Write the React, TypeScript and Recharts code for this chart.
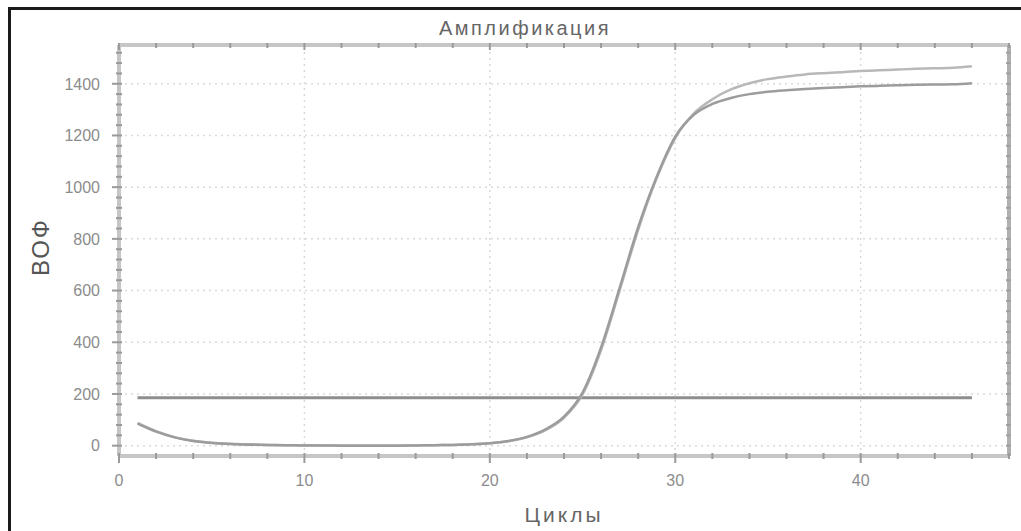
import React from 'react';
import { LineChart, Line, XAxis, YAxis, ReferenceLine } from 'recharts';

const CYCLES = [
  1, 2, 3, 4, 5, 6, 7, 8, 9, 10, 11, 12, 13, 14, 15, 16, 17, 18, 19, 20, 21, 22, 23,
  24, 25, 26, 27, 28, 29, 30, 31, 32, 33, 34, 35, 36, 37, 38, 39, 40, 41, 42, 43, 44, 45, 46,
];

const SAMPLE_A = [
  88, 56, 33, 19, 11, 7, 5, 3, 2, 2, 1, 1, 1, 1, 1, 1, 2, 3, 5, 9, 17, 32, 60,
  108, 198, 370, 600, 835, 1035, 1190, 1285, 1340, 1378, 1402, 1418, 1428, 1436, 1441, 1445, 1449, 1452, 1455, 1458, 1460, 1462, 1468,
];

const SAMPLE_B = [
  85, 54, 32, 18, 10, 6, 4, 3, 2, 1, 1, 0, 0, 0, 0, 1, 2, 3, 5, 9, 18, 34, 63,
  112, 205, 380, 610, 845, 1040, 1195, 1280, 1322, 1345, 1360, 1369, 1375, 1380, 1384, 1387, 1390, 1392, 1394, 1396, 1397, 1398, 1402,
];

const THRESHOLD = 185;

const X_TICKS = [0, 2, 4, 6, 8, 10, 12, 14, 16, 18, 20, 22, 24, 26, 28, 30, 32, 34, 36, 38, 40, 42, 44, 46, 48];
const X_LABELS = [0, 10, 20, 30, 40];
const Y_TICKS = [
  0, 40, 80, 120, 160, 200, 240, 280, 320, 360, 400, 440, 480, 520, 560, 600, 640, 680, 720, 760,
  800, 840, 880, 920, 960, 1000, 1040, 1080, 1120, 1160, 1200, 1240, 1280, 1320, 1360, 1400, 1440, 1480, 1520,
];
const Y_LABELS = [0, 200, 400, 600, 800, 1000, 1200, 1400];

const TITLE = 'Амплификация';
const X_TITLE = 'Циклы';
const Y_TITLE = 'ВОФ';

const data = CYCLES.map((c, i) => ({ cycle: c, a: SAMPLE_A[i], b: SAMPLE_B[i], thr: THRESHOLD }));

const FONT = '"Liberation Sans", Arial, sans-serif';
const TICK_COLOR = '#9a9a9a';
const AXIS_COLOR = '#c6c6c6';

const BottomTick = (props: any) => {
  const { x, y, payload } = props;
  const v = payload.value;
  const major = X_LABELS.includes(v);
  return (
    <g>
      <line x1={x} x2={x} y1={y - 3} y2={y + (major ? 7 : 3)} stroke={TICK_COLOR} strokeWidth={2} />
      {major && (
        <text x={x} y={y + 30} textAnchor="middle" fontSize={16} fill="#8c8c8c" fontFamily={FONT}>
          {v}
        </text>
      )}
    </g>
  );
};

const TopTick = (props: any) => {
  const { x, y, payload } = props;
  const major = X_LABELS.includes(payload.value);
  return <line x1={x} x2={x} y1={y - 2} y2={y + (major ? 5 : 3)} stroke={TICK_COLOR} strokeWidth={2} />;
};

const LeftTick = (props: any) => {
  const { x, y, payload } = props;
  const v = payload.value;
  const major = Y_LABELS.includes(v);
  return (
    <g>
      <line x1={x - (major ? 7 : 3)} x2={x + 3} y1={y} y2={y} stroke={TICK_COLOR} strokeWidth={2} />
      {major && (
        <text x={x - 19} y={y} dy="0.36em" textAnchor="end" fontSize={16} fill="#8c8c8c" fontFamily={FONT}>
          {v}
        </text>
      )}
    </g>
  );
};

const RightTick = (props: any) => {
  const { x, y } = props;
  return <line x1={x - 3} x2={x + 2} y1={y} y2={y} stroke="#a0a0a0" strokeWidth={2} />;
};

export default function App() {
  return (
    <div
      style={{
        position: 'absolute',
        left: 0,
        top: 0,
        width: 1021,
        height: 531,
        background: '#fff',
        overflow: 'hidden',
        fontFamily: FONT,
      }}
    >
      <div
        style={{
          position: 'absolute',
          left: 8,
          top: 7,
          width: 1013,
          height: 524,
          borderTop: '3px solid #1a1a1a',
          borderLeft: '3px solid #1a1a1a',
          boxSizing: 'border-box',
        }}
      />
      <LineChart width={1021} height={531} data={data} margin={{ top: 44, right: 11, bottom: 0, left: 0 }}>
        {X_LABELS.filter((v) => v > 0).map((v) => (
          <ReferenceLine key={'gx' + v} x={v} stroke="#dadada" strokeWidth={1.5} strokeDasharray="2 4" />
        ))}
        {Y_LABELS.map((v) => (
          <ReferenceLine key={'gy' + v} y={v} stroke="#dadada" strokeWidth={1.5} strokeDasharray="2 4" />
        ))}
        <XAxis
          dataKey="cycle"
          type="number"
          domain={[0, 48]}
          ticks={X_TICKS}
          interval={0}
          height={75}
          tickSize={0}
          tickMargin={0}
          tickLine={false}
          tick={BottomTick}
          axisLine={{ stroke: AXIS_COLOR, strokeWidth: 4 }}
          allowDataOverflow
        />
        <XAxis
          xAxisId="top"
          dataKey="cycle"
          orientation="top"
          type="number"
          domain={[0, 48]}
          ticks={X_TICKS}
          interval={0}
          height={1}
          tickSize={0}
          tickMargin={0}
          tickLine={false}
          tick={TopTick}
          axisLine={{ stroke: AXIS_COLOR, strokeWidth: 4 }}
          allowDataOverflow
        />
        <YAxis
          type="number"
          domain={[-40, 1550]}
          ticks={Y_TICKS}
          interval={0}
          width={119}
          tickSize={0}
          tickMargin={0}
          tickLine={false}
          tick={LeftTick}
          axisLine={{ stroke: AXIS_COLOR, strokeWidth: 4 }}
          allowDataOverflow
        />
        <YAxis
          yAxisId="right"
          orientation="right"
          type="number"
          domain={[-40, 1550]}
          ticks={Y_TICKS}
          interval={0}
          width={1}
          tickSize={0}
          tickMargin={0}
          tickLine={false}
          tick={RightTick}
          axisLine={{ stroke: '#b0b0b0', strokeWidth: 4 }}
          allowDataOverflow
        />
        <Line
          dataKey="thr"
          type="linear"
          stroke="#8e8e8e"
          strokeWidth={3}
          dot={false}
          isAnimationActive={false}
        />
        <Line
          dataKey="a"
          type="monotone"
          stroke="#b8b8b8"
          strokeWidth={2.5}
          dot={false}
          isAnimationActive={false}
        />
        <Line
          dataKey="b"
          type="monotone"
          stroke="#9c9c9c"
          strokeWidth={2.5}
          dot={false}
          isAnimationActive={false}
        />
        <Line
          dataKey="b"
          xAxisId="top"
          yAxisId="right"
          type="monotone"
          stroke="none"
          strokeOpacity={0}
          dot={false}
          activeDot={false}
          legendType="none"
          isAnimationActive={false}
        />
      </LineChart>
      <div
        style={{
          position: 'absolute',
          left: 525,
          top: 28,
          transform: 'translate(-50%, -50%)',
          fontSize: 20,
          letterSpacing: 2.5,
          color: '#666',
          whiteSpace: 'nowrap',
        }}
      >
        {TITLE}
      </div>
      <div
        style={{
          position: 'absolute',
          left: 564,
          top: 515,
          transform: 'translate(-50%, -50%)',
          fontSize: 21,
          letterSpacing: 3,
          color: '#666',
          whiteSpace: 'nowrap',
        }}
      >
        {X_TITLE}
      </div>
      <div
        style={{
          position: 'absolute',
          left: 41,
          top: 247,
          transform: 'translate(-50%, -50%) rotate(-90deg)',
          fontSize: 24,
          letterSpacing: 2,
          color: '#555',
          whiteSpace: 'nowrap',
        }}
      >
        {Y_TITLE}
      </div>
    </div>
  );
}
